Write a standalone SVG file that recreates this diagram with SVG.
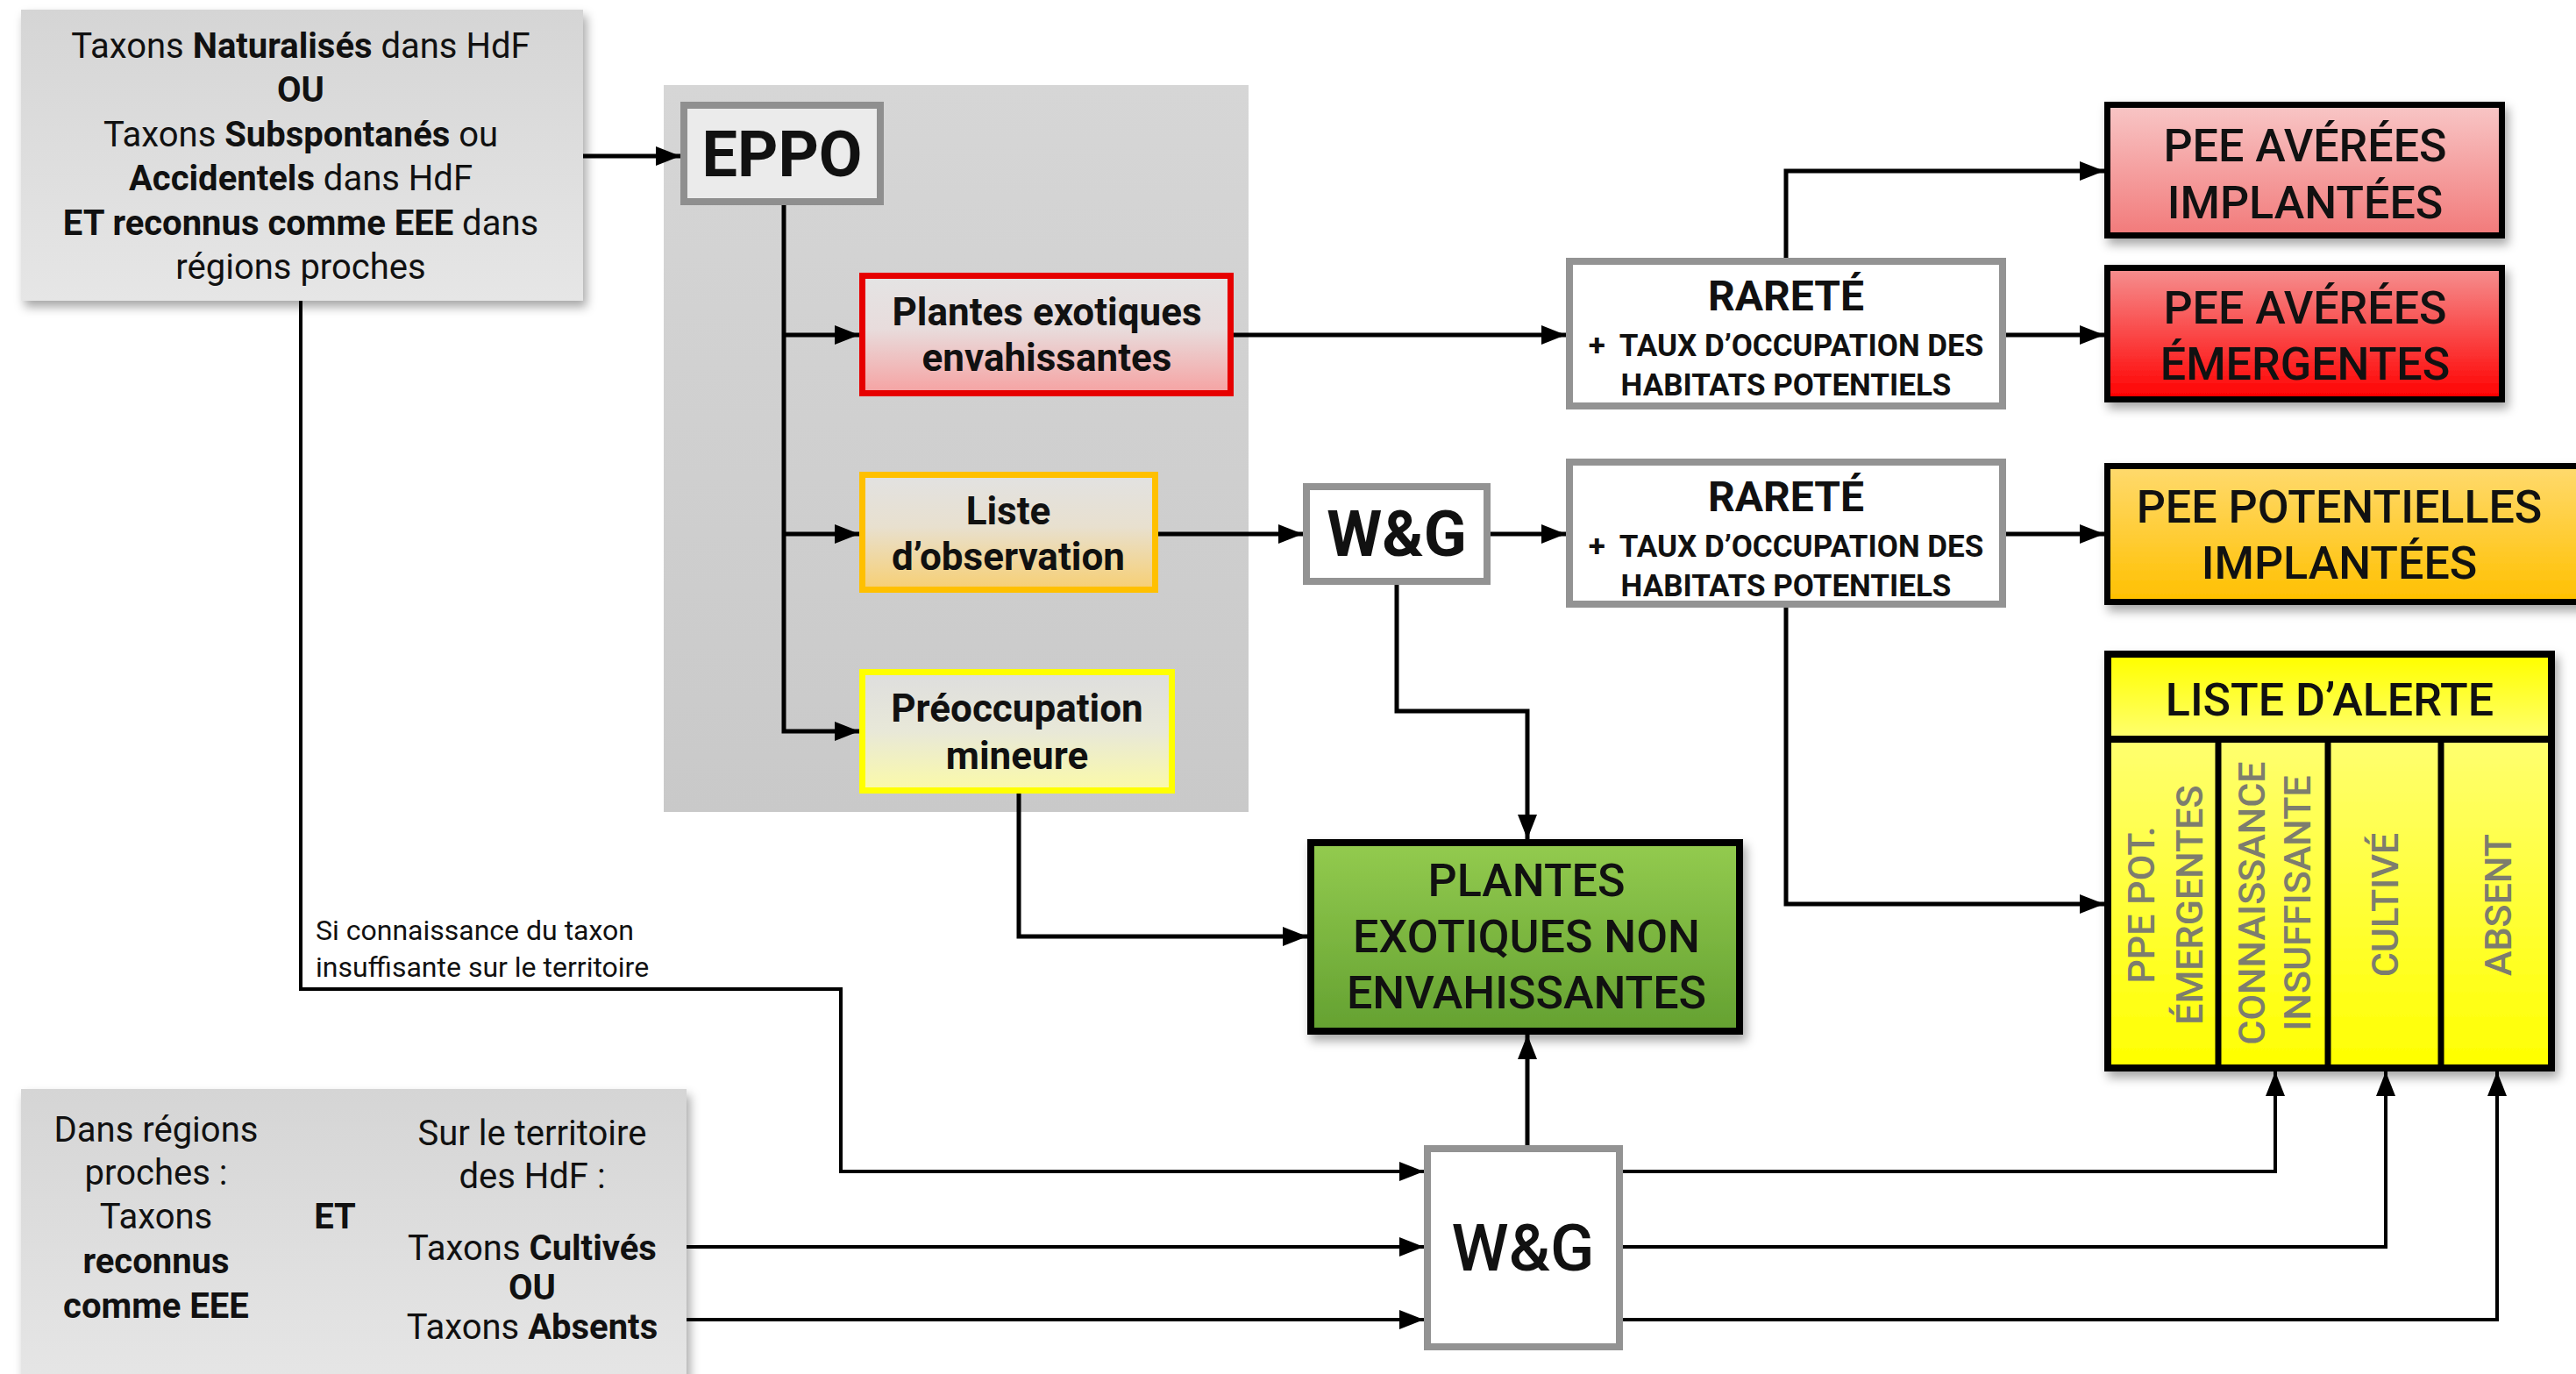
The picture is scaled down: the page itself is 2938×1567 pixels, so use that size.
<svg xmlns="http://www.w3.org/2000/svg" width="2938" height="1567" viewBox="0 0 2938 1567">
<style>
text{font-family:Roboto,"Liberation Sans",sans-serif;fill:#111;text-anchor:middle}
.reg{font-size:40px;font-weight:400}
.b{font-weight:700}
.lbl{font-size:44px;font-weight:700}
.pee{font-size:52px;font-weight:500}
.rar{font-size:48px;font-weight:700}
.rar2{font-size:35px;font-weight:700}
.col{font-size:43px;font-weight:500;fill:#7d7d6e}
.small{font-size:32px;font-weight:400;text-anchor:start}
.conn{fill:none;stroke:#000;stroke-width:5}
.conn2{fill:none;stroke:#000;stroke-width:4}
.gbox{stroke:#939393;stroke-width:8}
</style>
<defs>
<marker id="arr" markerUnits="userSpaceOnUse" markerWidth="28" markerHeight="22" refX="28" refY="11" orient="auto">
<path d="M0,0 L28,11 L0,22 z" fill="#000"/>
</marker>
<filter id="sh" x="-10%" y="-10%" width="125%" height="130%">
<feDropShadow dx="4" dy="7" stdDeviation="6" flood-color="#000" flood-opacity="0.35"/>
</filter>
<linearGradient id="gGrey" x1="0" y1="0" x2="0" y2="1"><stop offset="0" stop-color="#d5d5d5"/><stop offset="1" stop-color="#e6e6e6"/></linearGradient>
<linearGradient id="gPanel" x1="0" y1="0" x2="0" y2="1"><stop offset="0" stop-color="#d6d6d6"/><stop offset="1" stop-color="#c9c9c9"/></linearGradient>
<linearGradient id="gRedL" x1="0" y1="0" x2="0" y2="1"><stop offset="0" stop-color="#e4e4e4"/><stop offset="0.45" stop-color="#e8dcdc"/><stop offset="1" stop-color="#f6a2a2"/></linearGradient>
<linearGradient id="gOrL" x1="0" y1="0" x2="0" y2="1"><stop offset="0" stop-color="#e2e2e2"/><stop offset="0.45" stop-color="#e8e0cf"/><stop offset="1" stop-color="#f7cf73"/></linearGradient>
<linearGradient id="gYeL" x1="0" y1="0" x2="0" y2="1"><stop offset="0" stop-color="#dedede"/><stop offset="0.5" stop-color="#e8e8d8"/><stop offset="1" stop-color="#fbfaa8"/></linearGradient>
<linearGradient id="gPee1" x1="0" y1="0" x2="0" y2="1"><stop offset="0" stop-color="#f8c6c6"/><stop offset="1" stop-color="#f27a7a"/></linearGradient>
<linearGradient id="gPee2" x1="0" y1="0" x2="0" y2="1"><stop offset="0" stop-color="#f59090"/><stop offset="1" stop-color="#ff0000"/></linearGradient>
<linearGradient id="gPot" x1="0" y1="0" x2="0" y2="1"><stop offset="0" stop-color="#ffda6e"/><stop offset="1" stop-color="#ffc000"/></linearGradient>
<linearGradient id="gGreen" x1="0" y1="0" x2="0" y2="1"><stop offset="0" stop-color="#93cb4f"/><stop offset="1" stop-color="#64a131"/></linearGradient>
<linearGradient id="gYel" x1="0" y1="0" x2="0" y2="1"><stop offset="0" stop-color="#ffff8c"/><stop offset="1" stop-color="#ffff00"/></linearGradient>
<linearGradient id="gYelH" x1="0" y1="0" x2="0" y2="1"><stop offset="0" stop-color="#ffff00"/><stop offset="1" stop-color="#ffff70"/></linearGradient>
</defs>
<rect width="2938" height="1567" fill="#fff"/>

<g id="panel-eppo"><rect x="757" y="97" width="667" height="829" fill="url(#gPanel)"/></g>

<g id="connectors">
<path class="conn" d="M665,178 H776" marker-end="url(#arr)"/>
<path class="conn" d="M894,234 V834 H980" marker-end="url(#arr)"/>
<path class="conn" d="M894,382 H980" marker-end="url(#arr)"/>
<path class="conn" d="M894,609 H980" marker-end="url(#arr)"/>
<path class="conn" d="M1407,382 H1786" marker-end="url(#arr)"/>
<path class="conn" d="M1321,609 H1486" marker-end="url(#arr)"/>
<path class="conn" d="M1700,609 H1786" marker-end="url(#arr)"/>
<path class="conn" d="M2288,382 H2400" marker-end="url(#arr)"/>
<path class="conn" d="M2037,294 V195 H2400" marker-end="url(#arr)"/>
<path class="conn" d="M2288,609 H2400" marker-end="url(#arr)"/>
<path class="conn" d="M2037,693 V1031 H2400" marker-end="url(#arr)"/>
<path class="conn" d="M1593,667 V811 H1742 V957" marker-end="url(#arr)"/>
<path class="conn" d="M1162,905 V1068 H1491" marker-end="url(#arr)"/>
<path class="conn" d="M1742,1306 V1180" marker-end="url(#arr)"/>
<path class="conn2" d="M343,343 V1128 H959 V1336 H1624" marker-end="url(#arr)"/>
<path class="conn2" d="M783,1422 H1624" marker-end="url(#arr)"/>
<path class="conn2" d="M783,1505 H1624" marker-end="url(#arr)"/>
<path class="conn2" d="M1851,1336 H2595 V1222" marker-end="url(#arr)"/>
<path class="conn2" d="M1851,1422 H2721 V1222" marker-end="url(#arr)"/>
<path class="conn2" d="M1851,1505 H2848 V1222" marker-end="url(#arr)"/>
<text class="small" x="360" y="1072">Si connaissance du taxon</text>
<text class="small" x="360" y="1114">insuffisante sur le territoire</text>
</g>

<g id="source-top">
<rect x="24" y="11" width="641" height="332" fill="url(#gGrey)" filter="url(#sh)"/>
<text class="reg" x="343" y="66">Taxons <tspan class="b">Naturalisés</tspan> dans HdF</text>
<text class="reg b" x="343" y="116">OU</text>
<text class="reg" x="343" y="167">Taxons <tspan class="b">Subspontanés</tspan> ou</text>
<text class="reg" x="343" y="217"><tspan class="b">Accidentels</tspan> dans HdF</text>
<text class="reg" x="343" y="268"><tspan class="b">ET reconnus comme EEE</tspan> dans</text>
<text class="reg" x="343" y="318">régions proches</text>
</g>

<g id="eppo">
<rect x="780" y="120" width="224" height="110" fill="#ebebeb" stroke="#8f8f8f" stroke-width="8"/>
<text x="892" y="201" style="font-size:72px;font-weight:700">EPPO</text>
</g>

<g id="plantes-envahissantes">
<rect x="983.5" y="314.5" width="420" height="134" fill="url(#gRedL)" stroke="#e60000" stroke-width="7"/>
<text class="lbl" x="1194" y="371">Plantes exotiques</text>
<text class="lbl" x="1194" y="423">envahissantes</text>
</g>

<g id="liste-observation">
<rect x="983.5" y="541.5" width="334" height="131" fill="url(#gOrL)" stroke="#ffc000" stroke-width="7"/>
<text class="lbl" x="1150" y="598">Liste</text>
<text class="lbl" x="1150" y="650">d’observation</text>
</g>

<g id="preoccupation-mineure">
<rect x="983.5" y="766.5" width="353" height="135" fill="url(#gYeL)" stroke="#ffff00" stroke-width="7"/>
<text class="lbl" x="1160" y="823">Préoccupation</text>
<text class="lbl" x="1160" y="877">mineure</text>
</g>

<g id="wg-mid">
<rect x="1490" y="555" width="206" height="108" fill="#fff" stroke="#939393" stroke-width="8"/>
<text x="1593" y="634" style="font-size:72px;font-weight:700">W&amp;G</text>
</g>

<g id="rarete-1">
<rect x="1790" y="298" width="494" height="165" fill="#fff" class="gbox"/>
<text class="rar" x="2037" y="354">RARETÉ</text>
<text class="rar2" x="2037" y="406">+<tspan dx="16">TAUX D’OCCUPATION DES</tspan></text>
<text class="rar2" x="2037" y="451">HABITATS POTENTIELS</text>
</g>

<g id="rarete-2">
<rect x="1790" y="527" width="494" height="162" fill="#fff" class="gbox"/>
<text class="rar" x="2037" y="583">RARETÉ</text>
<text class="rar2" x="2037" y="635">+<tspan dx="16">TAUX D’OCCUPATION DES</tspan></text>
<text class="rar2" x="2037" y="680">HABITATS POTENTIELS</text>
</g>

<g id="pee-averees-implantees">
<rect x="2403.5" y="119.5" width="450" height="149" fill="url(#gPee1)" stroke="#000" stroke-width="7" filter="url(#sh)"/>
<text class="pee" x="2629" y="184">PEE AVÉRÉES</text>
<text class="pee" x="2629" y="249">IMPLANTÉES</text>
</g>

<g id="pee-averees-emergentes">
<rect x="2403.5" y="305.5" width="450" height="150" fill="url(#gPee2)" stroke="#000" stroke-width="7" filter="url(#sh)"/>
<text class="pee" x="2629" y="369">PEE AVÉRÉES</text>
<text class="pee" x="2629" y="433">ÉMERGENTES</text>
</g>

<g id="pee-potentielles-implantees">
<rect x="2403.5" y="531.5" width="545" height="155" fill="url(#gPot)" stroke="#000" stroke-width="7" filter="url(#sh)"/>
<text class="pee" x="2668" y="596">PEE POTENTIELLES</text>
<text class="pee" x="2668" y="660">IMPLANTÉES</text>
</g>

<g id="liste-alerte">
<rect x="2404" y="746" width="506" height="472" fill="url(#gYel)" stroke="#000" stroke-width="8" filter="url(#sh)"/>
<rect x="2408" y="750" width="498" height="93" fill="url(#gYelH)"/>
<line x1="2404" y1="843" x2="2910" y2="843" stroke="#000" stroke-width="8"/>
<line x1="2530" y1="843" x2="2530" y2="1218" stroke="#000" stroke-width="7"/>
<line x1="2655" y1="843" x2="2655" y2="1218" stroke="#000" stroke-width="7"/>
<line x1="2784" y1="843" x2="2784" y2="1218" stroke="#000" stroke-width="7"/>
<text class="pee" x="2657" y="816">LISTE D’ALERTE</text>
<text class="col" transform="translate(2442,1032) rotate(-90)" y="15">PPE POT.</text>
<text class="col" transform="translate(2497,1032) rotate(-90)" y="15">ÉMERGENTES</text>
<text class="col" transform="translate(2568,1030) rotate(-90)" y="15">CONNAISSANCE</text>
<text class="col" transform="translate(2620,1030) rotate(-90)" y="15">INSUFFISANTE</text>
<text class="col" transform="translate(2720,1032) rotate(-90)" y="15">CULTIVÉ</text>
<text class="col" transform="translate(2849,1032) rotate(-90)" y="15">ABSENT</text>
</g>

<g id="plantes-non-envahissantes">
<rect x="1495" y="961" width="489" height="215" fill="url(#gGreen)" stroke="#000" stroke-width="8" filter="url(#sh)"/>
<text class="pee" x="1741" y="1022">PLANTES</text>
<text class="pee" x="1741" y="1086">EXOTIQUES NON</text>
<text class="pee" x="1741" y="1150">ENVAHISSANTES</text>
</g>

<g id="wg-bottom">
<rect x="1628" y="1310" width="219" height="226" fill="#fff" stroke="#939393" stroke-width="8"/>
<text x="1737" y="1449" style="font-size:74px;font-weight:500">W&amp;G</text>
</g>

<g id="source-bottom">
<rect x="24" y="1242" width="759" height="340" fill="url(#gGrey)" filter="url(#sh)"/>
<text class="reg" x="178" y="1302">Dans régions</text>
<text class="reg" x="178" y="1351">proches :</text>
<text class="reg" x="178" y="1401">Taxons</text>
<text class="reg b" x="178" y="1452">reconnus</text>
<text class="reg b" x="178" y="1503">comme EEE</text>
<text class="reg b" x="382" y="1401">ET</text>
<text class="reg" x="607" y="1306">Sur le territoire</text>
<text class="reg" x="607" y="1355">des HdF :</text>
<text class="reg" x="607" y="1437">Taxons <tspan class="b">Cultivés</tspan></text>
<text class="reg b" x="607" y="1482">OU</text>
<text class="reg" x="607" y="1527">Taxons <tspan class="b">Absents</tspan></text>
</g>
</svg>
